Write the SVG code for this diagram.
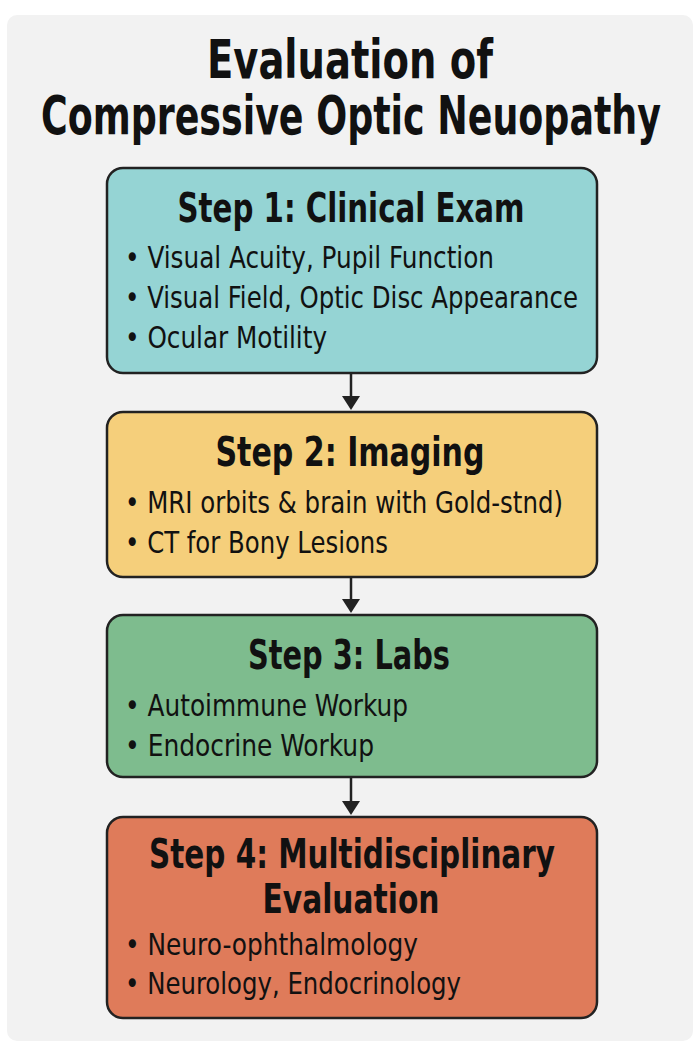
<svg xmlns="http://www.w3.org/2000/svg" width="700" height="1052" viewBox="0 0 700 1052">
<style>
text{font-family:"Liberation Sans Narrow","DejaVu Sans Condensed","Liberation Sans",sans-serif;fill:#111}
.title{font-size:53px;font-weight:bold;text-anchor:middle}
.head{font-size:41px;font-weight:bold;text-anchor:middle}
.item{font-size:31px}
.box{stroke:#222;stroke-width:2.5}
.conn{stroke:#222;stroke-width:2.5;fill:none}
.tip{fill:#222}
</style>
<rect width="700" height="1052" fill="#ffffff"/>
<rect x="7" y="15" width="686" height="1026" rx="10" fill="#f2f2f2"/>
<g id="title">
<text class="title" x="350" y="78" textLength="286" lengthAdjust="spacingAndGlyphs">Evaluation of</text>
<text class="title" x="351" y="134" textLength="620" lengthAdjust="spacingAndGlyphs">Compressive Optic Neuopathy</text>
</g>
<g id="connectors">
<path class="conn" d="M351,374 V396"/>
<path class="tip" d="M342,396 L360,396 L351,410 Z"/>
<path class="conn" d="M351,577 V600"/>
<path class="tip" d="M342,599 L360,599 L351,613 Z"/>
<path class="conn" d="M351,778 V802"/>
<path class="tip" d="M342,801 L360,801 L351,815 Z"/>
</g>
<g id="step1">
<rect class="box" x="107" y="168" width="490" height="205" rx="16" fill="#95d4d4"/>
<text class="head" x="351" y="222" textLength="347" lengthAdjust="spacingAndGlyphs">Step 1: Clinical Exam</text>
<text class="item" x="125" y="268" textLength="369" lengthAdjust="spacingAndGlyphs">• Visual Acuity, Pupil Function</text>
<text class="item" x="125" y="308" textLength="453" lengthAdjust="spacingAndGlyphs">• Visual Field, Optic Disc Appearance</text>
<text class="item" x="125" y="348" textLength="202" lengthAdjust="spacingAndGlyphs">• Ocular Motility</text>
</g>
<g id="step2">
<rect class="box" x="107" y="412" width="490" height="165" rx="16" fill="#f5cf7b"/>
<text class="head" x="350" y="466" textLength="269" lengthAdjust="spacingAndGlyphs">Step 2: Imaging</text>
<text class="item" x="125" y="513" textLength="438" lengthAdjust="spacingAndGlyphs">• MRI orbits &amp; brain with Gold-stnd)</text>
<text class="item" x="125" y="553" textLength="263" lengthAdjust="spacingAndGlyphs">• CT for Bony Lesions</text>
</g>
<g id="step3">
<rect class="box" x="107" y="615" width="490" height="162" rx="16" fill="#7ebc8e"/>
<text class="head" x="349" y="669" textLength="202" lengthAdjust="spacingAndGlyphs">Step 3: Labs</text>
<text class="item" x="125" y="716" textLength="283" lengthAdjust="spacingAndGlyphs">• Autoimmune Workup</text>
<text class="item" x="125" y="756" textLength="249" lengthAdjust="spacingAndGlyphs">• Endocrine Workup</text>
</g>
<g id="step4">
<rect class="box" x="107" y="817" width="490" height="201" rx="16" fill="#df7b5a"/>
<text class="head" x="352" y="868" textLength="406" lengthAdjust="spacingAndGlyphs">Step 4: Multidisciplinary</text>
<text class="head" x="351" y="913" textLength="177" lengthAdjust="spacingAndGlyphs">Evaluation</text>
<text class="item" x="125" y="955" textLength="293" lengthAdjust="spacingAndGlyphs">• Neuro-ophthalmology</text>
<text class="item" x="125" y="994" textLength="336" lengthAdjust="spacingAndGlyphs">• Neurology, Endocrinology</text>
</g>
</svg>
